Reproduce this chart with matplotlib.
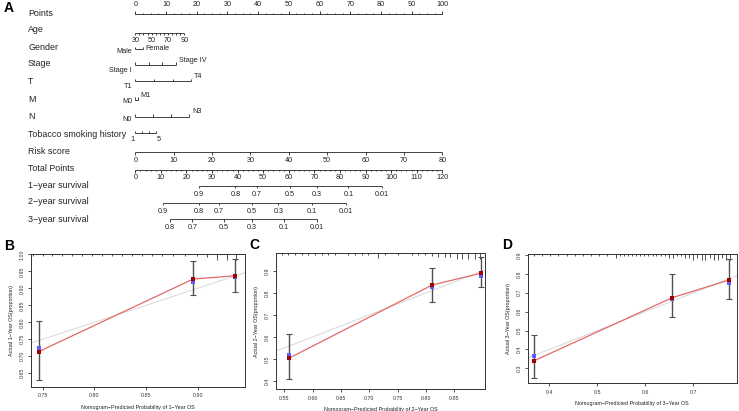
import numpy as np
import matplotlib
matplotlib.use('Agg')
import matplotlib.pyplot as plt

plt.rcParams['font.family'] = ['Liberation Sans', 'DejaVu Sans']

W, H = 739, 411

# ---- nomogram data ----
row_names = ['Points', 'Age', 'Gender', 'Stage', 'T', 'M', 'N',
             'Tobacco smoking history', 'Risk score', 'Total Points',
             '1\u2212year survival', '2\u2212year survival', '3\u2212year survival']

points_major = list(range(0, 101, 10))

age_ticks = list(range(30, 91, 5))
age_labels = [30, 50, 70, 90]
age_range = [30, 90]
age_points = [0, 16]

gender_levels = ['Male', 'Female']
gender_points = [0, 2.4]
stage_levels = ['Stage I', 'Stage II', 'Stage III', 'Stage IV']
stage_points = [0, 4.4, 8.8, 13.3]
t_levels = ['T1', 'T2', 'T3', 'T4']
t_points = [0, 6.1, 12.2, 18.2]
m_levels = ['M0', 'M1']
m_points = [0, 0.8]
n_levels = ['N0', 'N1', 'N2', 'N3']
n_points = [0, 5.8, 11.6, 17.6]

tobacco_ticks = [1, 2.3, 3.7, 5]
tobacco_labels = [1, 5]
tobacco_range = [1, 5]
tobacco_points = [0, 6.7]

risk_ticks = list(range(0, 81, 10))
risk_max = 80
total_ticks = list(range(0, 121, 10))
total_max = 120

surv1_labels = ['0.9', '0.8', '0.7', '0.5', '0.3', '0.1', '0.01']
surv1_total = [24.8, 39.1, 47.4, 60.5, 70.9, 83.3, 96.4]
surv2_labels = ['0.9', '0.8', '0.7', '0.5', '0.3', '0.1', '0.01']
surv2_total = [10.7, 24.8, 32.7, 45.7, 55.9, 68.9, 82.2]
surv3_labels = ['0.8', '0.7', '0.5', '0.3', '0.1', '0.01']
surv3_total = [13.6, 22.3, 34.7, 45.5, 58.0, 70.9]

# ---- calibration data ----
b_pred = [0.746, 0.8956, 0.9367]
b_obs = [0.7135, 0.927, 0.937]
b_corr = [0.7235, 0.9185, 0.932]
b_lo = [0.6315, 0.880, 0.890]
b_hi = [0.805, 0.980, 0.986]
b_rug = [0.7406, 0.7503, 0.759, 0.7687, 0.7784, 0.7882, 0.7979, 0.8076, 0.8173,
         0.827, 0.8367, 0.8464, 0.8561, 0.8658, 0.8765, 0.8881, 0.8998, 0.9095,
         0.9192, 0.9289, 0.9377]
b_rug_n = [1, 1, 1, 1, 1, 1, 1, 1, 1, 1, 1, 1, 1, 1, 1, 1, 1, 1.5, 3, 3, 3]

c_pred = [0.558, 0.811, 0.897]
c_obs = [0.503, 0.836, 0.8895]
c_corr = [0.518, 0.826, 0.879]
c_lo = [0.408, 0.760, 0.825]
c_hi = [0.613, 0.912, 0.961]
c_rug = [0.5454, 0.5571, 0.5689, 0.5807, 0.5924, 0.6042, 0.616, 0.6277, 0.6395,
         0.6629, 0.6748, 0.6866, 0.6982, 0.7159, 0.7277, 0.7512, 0.7748, 0.7865,
         0.7983, 0.8101, 0.8218, 0.8336, 0.8424, 0.8542, 0.863, 0.8747, 0.8865,
         0.8953]
c_rug_n = [1, 1, 1, 1, 1, 1, 1, 1, 1, 1, 1, 1, 1, 2.5, 1, 1, 1, 1, 1, 1.5, 2, 2,
           2, 3, 3, 3, 3, 3]

d_pred = [0.369, 0.656, 0.775]
d_obs = [0.341, 0.674, 0.768]
d_corr = [0.366, 0.666, 0.750]
d_lo = [0.248, 0.574, 0.666]
d_hi = [0.477, 0.798, 0.879]
d_rug = [0.368, 0.385, 0.402, 0.419, 0.436, 0.453, 0.470, 0.487, 0.504, 0.521,
         0.538, 0.547, 0.555, 0.564, 0.572, 0.581, 0.589, 0.598, 0.606, 0.615,
         0.623, 0.632, 0.640, 0.649, 0.657, 0.666, 0.674, 0.683, 0.691, 0.700,
         0.708, 0.717, 0.725, 0.734, 0.742, 0.751, 0.759, 0.768, 0.776]
d_rug_n = [1, 1, 1, 1, 1, 1, 1, 1, 1, 1, 2, 1, 1, 1, 1, 1, 1, 1, 1, 1, 1, 1, 1,
           2, 2, 1, 1, 2, 2, 3, 2, 3, 3, 2, 3, 3, 2, 3, 3]

fig = plt.figure(figsize=(W / 100, H / 100), dpi=100)

# ---------------- nomogram (panel A) ----------------
px0, pxs = 135.3, 3.07   # pixel of 0 points, pixels per point
ax = fig.add_axes([0, 0, 1, 1])
ax.set_xlim(-px0 / pxs, (W - px0) / pxs)
ax.set_ylim(H, 0)
ax.axis('off')

LC = '#222222'
LW = 0.6
FS_ROW = 6.4
FS_TICK = 5.2

label_x = (28 - px0) / pxs
row_y = [14, 30, 48, 64, 81, 99, 116, 134, 151.7, 168.3, 185, 201.7, 219]
for name, y in zip(row_names, row_y):
    ax.text(label_x, y, name, fontsize=FS_ROW, color=LC, ha='left', va='center')


def scale(y, xs, tlen, major=None, mlen=None):
    ax.plot([min(xs), max(xs)], [y, y], color=LC, lw=LW, solid_capstyle='butt')
    ax.vlines(xs, y, y + tlen, color=LC, lw=LW)
    if major is not None:
        ax.vlines(major, y, y + mlen, color=LC, lw=LW)


# Points
pts_minor = np.arange(0, 100.1, 2.5)
scale(14.3, pts_minor, -1.5, points_major, -3)
for p in points_major:
    ax.text(p, 8.5, str(p), fontsize=FS_TICK, color=LC, ha='center', va='bottom')

# Age
age_x = np.interp(age_ticks, age_range, age_points)
scale(32.7, age_x, 2.2)
for a in age_labels:
    ax.text(np.interp(a, age_range, age_points), 37, str(a), fontsize=FS_TICK,
            color=LC, ha='center', va='top')


def cat_row(y, levels, pts, off_lo, off_hi):
    scale(y, pts, -2.5)
    ax.text(pts[0] - 1.0, y + off_lo, levels[0], fontsize=FS_TICK, color=LC,
            ha='right', va='center')
    ax.text(pts[-1] + 1.0, y + off_hi, levels[-1], fontsize=FS_TICK, color=LC,
            ha='left', va='center')


cat_row(49.3, gender_levels, gender_points, 2.4, -1.0)
cat_row(65, stage_levels, stage_points, 6, -5)
cat_row(81.5, t_levels, t_points, 4.5, -4.5)
cat_row(100, m_levels, m_points, 1.7, -4.3)
cat_row(116.7, n_levels, n_points, 2.3, -5.7)

# Tobacco
tob_x = np.interp(tobacco_ticks, tobacco_range, tobacco_points)
scale(133.3, tob_x, -2.2)
ax.text(tob_x[0] - 0.4, 136, str(tobacco_labels[0]), fontsize=FS_TICK, color=LC,
        ha='right', va='top')
ax.text(tob_x[-1] + 0.4, 136, str(tobacco_labels[1]), fontsize=FS_TICK, color=LC,
        ha='left', va='top')

# Risk score
risk_x = np.array(risk_ticks) / risk_max * 100
scale(152.3, risk_x, 2.5)
for r, xx in zip(risk_ticks, risk_x):
    ax.text(xx, 157, str(r), fontsize=FS_TICK, color=LC, ha='center', va='top')

# Total points
tot_minor = np.arange(0, total_max + 0.1, 2) / total_max * 100
tot_x = np.array(total_ticks) / total_max * 100
scale(170, tot_minor, 1.5, tot_x, 2.6)
for t, xx in zip(total_ticks, tot_x):
    ax.text(xx, 174, str(t), fontsize=FS_TICK, color=LC, ha='center', va='top')

# Survival probability axes
for y, labs, tots in [(185.7, surv1_labels, surv1_total),
                      (202.7, surv2_labels, surv2_total),
                      (219.3, surv3_labels, surv3_total)]:
    sx = np.array(tots) / total_max * 100
    scale(y, sx, 2.5)
    for lab, xx in zip(labs, sx):
        ax.text(xx, y + 5, lab, fontsize=FS_TICK, color=LC, ha='center', va='top')

# ---------------- calibration panels ----------------
def panel(box, year, pred, obs, corr, lo, hi, rug, rug_n, xlim, ylim,
          xticks, yticks, xfmt, yfmt):
    l, t, r, b = box
    cax = fig.add_axes([l / W, 1 - b / H, (r - l) / W, (b - t) / H])
    cax.set_xlim(xlim)
    cax.set_ylim(ylim)
    cax.plot(xlim, xlim, color='#dcdcdc', lw=0.8, zorder=1)
    cax.plot(pred, obs, color='#e06a6a', lw=0.9, zorder=2)
    cax.errorbar(pred, obs, yerr=[np.array(obs) - np.array(lo),
                                  np.array(hi) - np.array(obs)],
                 fmt='none', ecolor='#505050', elinewidth=1.0, capsize=2.0,
                 capthick=0.8, zorder=3)
    cax.plot(pred, corr, 's', color='#5b5bff', ms=2.2, mew=0, zorder=4)
    cax.plot(pred, obs, 's', color='#a00000', ms=2.2, mew=0, zorder=5)
    unit = (ylim[1] - ylim[0]) / (b - t) * 2.0
    top = ylim[1]
    cax.vlines(rug, top - np.array(rug_n) * unit, top, color='#333333', lw=0.6)
    cax.set_xticks(xticks)
    cax.set_yticks(yticks)
    cax.set_xticklabels([xfmt % v for v in xticks])
    cax.set_yticklabels([yfmt % v for v in yticks], rotation=90, va='center')
    cax.tick_params(labelsize=3.8, length=2.5, width=0.6, colors='#333333',
                    pad=2)
    for s in cax.spines.values():
        s.set_color('#333333')
        s.set_linewidth(0.7)
    cax.set_xlabel('Nomogram\u2212Predicted Probability of %d\u2212Year OS' % year,
                   fontsize=3.9, color='#222222', labelpad=5)
    cax.set_ylabel('Actual %d\u2212Year OS(proportion)' % year,
                   fontsize=3.9, color='#222222', labelpad=4)
    return cax


panel((30.7, 254.3, 245, 386.7), 1, b_pred, b_obs, b_corr, b_lo, b_hi,
      b_rug, b_rug_n, (0.7384, 0.946), (0.6106, 1.0),
      [0.75, 0.80, 0.85, 0.90], [0.65, 0.70, 0.75, 0.80, 0.85, 0.90, 0.95, 1.00],
      '%.2f', '%.2f')
panel((276, 253.3, 485, 389.3), 2, c_pred, c_obs, c_corr, c_lo, c_hi,
      c_rug, c_rug_n, (0.5354, 0.904), (0.362, 0.980),
      [0.55, 0.60, 0.65, 0.70, 0.75, 0.80, 0.85], [0.4, 0.5, 0.6, 0.7, 0.8, 0.9],
      '%.2f', '%.1f')
panel((527.7, 254, 736.7, 383.3), 3, d_pred, d_obs, d_corr, d_lo, d_hi,
      d_rug, d_rug_n, (0.355, 0.790), (0.221, 0.905),
      [0.4, 0.5, 0.6, 0.7], [0.3, 0.4, 0.5, 0.6, 0.7, 0.8, 0.9],
      '%.1f', '%.1f')

# panel letters
for letter, (lx, ly) in zip('ABCD', [(4, 8), (4, 245.5), (249, 245), (502, 245)]):
    fig.text(lx / W, 1 - ly / H, letter, fontsize=10, fontweight='bold',
             ha='left', va='center', color='black')

fig.savefig('out.png', dpi=100)
